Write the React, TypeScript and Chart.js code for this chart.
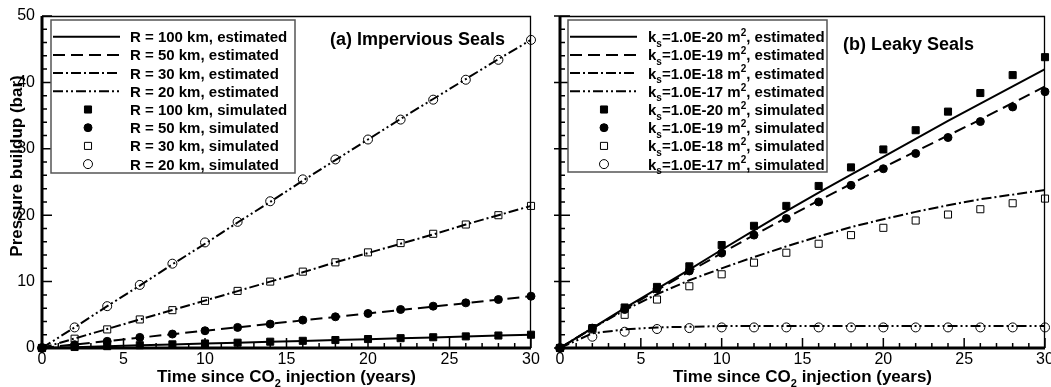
import React, { useEffect, useRef } from 'react';
import { Chart, registerables } from 'chart.js';
import { drawPoint } from 'chart.js/helpers';

Chart.register(...registerables);

const FAMILY = '"Liberation Sans", Arial, Helvetica, sans-serif';

// ---------- data ----------
const years = [0, 2, 4, 6, 8, 10, 12, 14, 16, 18, 20, 22, 24, 26, 28, 30];
const xTickValues = [0, 5, 10, 15, 20, 25, 30];
const yTickValues = [0, 10, 20, 30, 40, 50];

const xTitle = 'Time since CO_{2} injection (years)';
const yTitle = 'Pressure buildup (bar)';

// (a) Impervious seals
const titleA = '(a) Impervious Seals';
const labelsA = [
  'R = 100 km, estimated',
  'R = 50 km, estimated',
  'R = 30 km, estimated',
  'R = 20 km, estimated',
  'R = 100 km, simulated',
  'R = 50 km, simulated',
  'R = 30 km, simulated',
  'R = 20 km, simulated',
];
const estA100 = [0, 0.13, 0.27, 0.4, 0.53, 0.67, 0.8, 0.93, 1.07, 1.2, 1.33, 1.47, 1.6, 1.73, 1.87, 2.0];
const estA50 = [0, 0.52, 1.04, 1.56, 2.08, 2.6, 3.12, 3.64, 4.16, 4.68, 5.2, 5.72, 6.24, 6.76, 7.28, 7.8];
const estA30 = [0, 1.43, 2.86, 4.29, 5.71, 7.14, 8.57, 10.0, 11.4, 12.9, 14.3, 15.7, 17.1, 18.6, 20.0, 21.4];
const estA20 = [0, 3.1, 6.3, 9.4, 12.6, 15.7, 18.9, 22.0, 25.2, 28.3, 31.4, 34.5, 37.5, 40.5, 43.5, 46.4];
const simA100 = [0, 0.15, 0.28, 0.42, 0.55, 0.68, 0.8, 0.95, 1.08, 1.2, 1.35, 1.48, 1.62, 1.75, 1.88, 2.0];
const simA50 = [0, 0.5, 1.0, 1.6, 2.1, 2.6, 3.1, 3.6, 4.2, 4.7, 5.2, 5.8, 6.3, 6.8, 7.3, 7.8];
const simA30 = [0, 1.4, 2.8, 4.3, 5.7, 7.1, 8.6, 10.0, 11.5, 12.9, 14.4, 15.8, 17.2, 18.6, 20.0, 21.4];
const simA20 = [0, 3.1, 6.3, 9.5, 12.7, 15.9, 19.0, 22.1, 25.4, 28.4, 31.4, 34.4, 37.4, 40.4, 43.4, 46.4];

// (b) Leaky seals
const titleB = '(b) Leaky Seals';
const labelsB = [
  'k_{s}=1.0E-20 m^{2}, estimated',
  'k_{s}=1.0E-19 m^{2}, estimated',
  'k_{s}=1.0E-18 m^{2}, estimated',
  'k_{s}=1.0E-17 m^{2}, estimated',
  'k_{s}=1.0E-20 m^{2}, simulated',
  'k_{s}=1.0E-19 m^{2}, simulated',
  'k_{s}=1.0E-18 m^{2}, simulated',
  'k_{s}=1.0E-17 m^{2}, simulated',
];
const estB20 = [0, 3.0, 6.0, 8.9, 11.8, 14.8, 17.7, 20.6, 23.4, 26.1, 28.8, 31.5, 34.2, 36.8, 39.4, 42.0];
const estB19 = [0, 2.95, 5.85, 8.7, 11.5, 14.3, 17.0, 19.6, 22.2, 24.7, 27.2, 29.6, 32.0, 34.4, 36.9, 39.4];
const estB18 = [0, 3.0, 5.7, 8.1, 10.2, 12.0, 13.7, 15.3, 16.8, 18.2, 19.4, 20.5, 21.5, 22.4, 23.1, 23.8];
const estB17 = [0, 2.2, 2.8, 3.1, 3.2, 3.3, 3.3, 3.3, 3.3, 3.3, 3.3, 3.3, 3.3, 3.3, 3.3, 3.3];
const simB20 = [0, 3.0, 6.1, 9.2, 12.3, 15.5, 18.4, 21.4, 24.4, 27.2, 29.9, 32.8, 35.6, 38.4, 41.1, 43.8];
const simB19 = [0, 3.0, 5.8, 8.9, 11.6, 14.3, 17.0, 19.5, 22.0, 24.5, 27.0, 29.3, 31.7, 34.1, 36.3, 38.6];
const simB18 = [0, 2.8, 5.0, 7.3, 9.3, 11.1, 12.85, 14.35, 15.7, 17.0, 18.1, 19.2, 20.1, 20.9, 21.8, 22.5];
const simB17 = [0, 1.7, 2.45, 2.86, 3.0, 3.1, 3.1, 3.1, 3.1, 3.1, 3.1, 3.1, 3.1, 3.1, 3.1, 3.1];

// ---------- styles ----------
const lineDashes = [[], [12, 6], [10, 3, 2, 3], [10, 3, 2, 3, 2, 3]];
const markerStyles = [
  { pointStyle: 'rect', radius: 5, fill: '#000' },
  { pointStyle: 'circle', radius: 4, fill: '#000' },
  { pointStyle: 'rect', radius: 5, fill: 'rgba(0,0,0,0)' },
  { pointStyle: 'circle', radius: 4.5, fill: 'rgba(0,0,0,0)' },
];

function toPoints(vals: number[]) {
  return years.map((x, i) => ({ x, y: vals[i] }));
}

function buildDatasets(labels: string[], est: number[][], sim: number[][]) {
  const ds: any[] = [];
  est.forEach((vals, i) => {
    ds.push({
      label: labels[i],
      data: toPoints(vals),
      showLine: true,
      borderColor: '#000',
      backgroundColor: '#000',
      borderWidth: 2,
      borderDash: lineDashes[i],
      pointRadius: 0,
      pointHoverRadius: 0,
      order: 2,
      _kind: 'line',
    });
  });
  sim.forEach((vals, i) => {
    const m = markerStyles[i];
    ds.push({
      label: labels[i + 4],
      data: toPoints(vals),
      showLine: false,
      borderColor: '#000',
      backgroundColor: m.fill,
      pointBackgroundColor: m.fill,
      pointBorderColor: '#000',
      pointBorderWidth: 1,
      pointStyle: m.pointStyle,
      pointRadius: m.radius,
      pointHoverRadius: m.radius,
      clip: false,
      order: 1,
      _kind: 'marker',
    });
  });
  return ds;
}

// rich text with _{sub} and ^{sup}
function richParts(text: string) {
  return text.split(/(_\{[^}]*\}|\^\{[^}]*\})/g).filter((p) => p.length);
}
function drawRich(ctx: CanvasRenderingContext2D, text: string, x: number, y: number, size: number, weight: string, align: 'left' | 'center') {
  const parts = richParts(text).map((p) => {
    if (p.startsWith('_{')) return { t: p.slice(2, -1), fs: Math.round(size * 0.66), dy: size * 0.3 };
    if (p.startsWith('^{')) return { t: p.slice(2, -1), fs: Math.round(size * 0.66), dy: -size * 0.42 };
    return { t: p, fs: size, dy: 0 };
  });
  let total = 0;
  for (const p of parts) {
    ctx.font = `${weight} ${p.fs}px ${FAMILY}`;
    total += ctx.measureText(p.t).width;
  }
  let cx = align === 'center' ? x - total / 2 : x;
  ctx.textAlign = 'left';
  ctx.textBaseline = 'alphabetic';
  for (const p of parts) {
    ctx.font = `${weight} ${p.fs}px ${FAMILY}`;
    ctx.fillText(p.t, cx, y + p.dy);
    cx += ctx.measureText(p.t).width;
  }
}

function makeDecor(p: any) {
  return {
    id: 'decor',
    afterDraw(chart: any) {
      const { ctx, chartArea: a } = chart;
      const xs = chart.scales.x;
      const ys = chart.scales.y;
      ctx.save();
      ctx.strokeStyle = '#000';
      ctx.setLineDash([]);
      // thin top/right frame
      ctx.lineWidth = 1.3;
      ctx.beginPath();
      ctx.moveTo(a.left, a.top + 0.5);
      ctx.lineTo(a.right - 0.5, a.top + 0.5);
      ctx.lineTo(a.right - 0.5, a.bottom);
      ctx.stroke();
      // inward ticks
      ctx.lineWidth = 1.5;
      ctx.beginPath();
      for (let v = xs.min; v <= xs.max + 1e-9; v += 1) {
        const px = xs.getPixelForValue(v);
        const major = xTickValues.includes(v);
        ctx.moveTo(px, a.bottom);
        ctx.lineTo(px, a.bottom - (major ? 10 : 5));
      }
      for (let v = ys.min; v <= ys.max + 1e-9; v += 2) {
        const py = ys.getPixelForValue(v);
        const major = yTickValues.includes(v);
        ctx.moveTo(a.left - (major ? p.outerMajor : 0), py);
        ctx.lineTo(a.left + (major ? 10 : 5), py);
      }
      ctx.stroke();
      // thick left/bottom axes
      ctx.lineWidth = 3;
      ctx.beginPath();
      ctx.moveTo(a.left, a.top);
      ctx.lineTo(a.left, a.bottom);
      ctx.lineTo(a.right, a.bottom);
      ctx.stroke();

      // legend box
      const L = p.legend;
      ctx.fillStyle = '#fff';
      ctx.fillRect(L.x, L.y, L.w, L.h);
      ctx.strokeStyle = '#555';
      ctx.lineWidth = 1.5;
      ctx.strokeRect(L.x, L.y, L.w, L.h);
      chart.data.datasets.forEach((d: any, i: number) => {
        const cy = L.firstRow + i * L.rowStep;
        if (d._kind === 'line') {
          ctx.strokeStyle = '#000';
          ctx.lineWidth = 2;
          ctx.setLineDash(d.borderDash || []);
          ctx.beginPath();
          ctx.moveTo(L.lineX0, cy);
          ctx.lineTo(L.lineX1, cy);
          ctx.stroke();
          ctx.setLineDash([]);
        } else {
          ctx.fillStyle = d.pointBackgroundColor;
          ctx.strokeStyle = '#000';
          ctx.lineWidth = 1;
          drawPoint(ctx, { pointStyle: d.pointStyle, radius: d.pointRadius, borderWidth: 1, rotation: 0 }, L.markerX, cy);
        }
        ctx.fillStyle = '#000';
        drawRich(ctx, d.label, L.textX, cy + 5.5, 15, 'bold', 'left');
      });

      // panel title
      ctx.fillStyle = '#000';
      drawRich(ctx, p.title, p.titleX, p.titleY, 18, 'bold', 'left');

      // x axis title
      drawRich(ctx, xTitle, (a.left + a.right) / 2, p.xTitleY, 17, 'bold', 'center');

      // y axis title
      if (p.showYTitle) {
        ctx.save();
        ctx.translate(p.yTitleX, p.yTitleY);
        ctx.rotate(-Math.PI / 2);
        ctx.font = `bold 17px ${FAMILY}`;
        ctx.textAlign = 'center';
        ctx.textBaseline = 'middle';
        ctx.fillText(yTitle, 0, 0);
        ctx.restore();
      }
      ctx.restore();
    },
  };
}

function makeConfig(panel: any) {
  return {
    type: 'scatter',
    data: { datasets: buildDatasets(panel.labels, panel.est, panel.sim) },
    options: {
      animation: false,
      responsive: false,
      events: [],
      layout: { padding: { left: 0, top: panel.padTop, right: panel.padRight, bottom: 0 } },
      plugins: { legend: { display: false }, tooltip: { enabled: false }, title: { display: false } },
      scales: {
        x: {
          type: 'linear',
          min: 0,
          max: 30,
          grid: { display: false, drawTicks: false },
          border: { display: false },
          afterBuildTicks: (s: any) => {
            s.ticks = xTickValues.map((v) => ({ value: v }));
          },
          ticks: {
            color: '#000',
            padding: 2,
            maxRotation: 0,
            autoSkip: false,
            font: { family: FAMILY, size: 16 },
          },
          afterFit: (s: any) => {
            s.height = panel.xAxisHeight;
            s.paddingLeft = 0;
            s.paddingRight = 0;
          },
        },
        y: {
          type: 'linear',
          min: 0,
          max: 50,
          grid: { display: false, drawTicks: false },
          border: { display: false },
          afterBuildTicks: (s: any) => {
            s.ticks = yTickValues.map((v) => ({ value: v }));
          },
          ticks: {
            display: panel.showYTicks,
            color: '#000',
            padding: 7,
            autoSkip: false,
            font: { family: FAMILY, size: 16 },
          },
          afterFit: (s: any) => {
            s.width = panel.yAxisWidth;
            s.paddingTop = 0;
            s.paddingBottom = 0;
          },
        },
      },
    },
    plugins: [makeDecor(panel.decor)],
  };
}

const panelA = {
  labels: labelsA,
  est: [estA100, estA50, estA30, estA20],
  sim: [simA100, simA50, simA30, simA20],
  padTop: 16,
  padRight: 9,
  xAxisHeight: 39,
  yAxisWidth: 42,
  showYTicks: true,
  decor: {
    outerMajor: 0,
    title: titleA,
    titleX: 330,
    titleY: 45,
    xTitleY: 382,
    showYTitle: true,
    yTitleX: 17.5,
    yTitleY: 166,
    legend: { x: 51, y: 20, w: 244, h: 153, firstRow: 36.7, rowStep: 18.2, lineX0: 53, lineX1: 120, markerX: 88, textX: 130 },
  },
};

const panelB = {
  labels: labelsB,
  est: [estB20, estB19, estB18, estB17],
  sim: [simB20, simB19, simB18, simB17],
  padTop: 16,
  padRight: 3,
  xAxisHeight: 39,
  yAxisWidth: 20,
  showYTicks: false,
  decor: {
    outerMajor: 6,
    title: titleB,
    titleX: 303,
    titleY: 50,
    xTitleY: 382,
    showYTitle: false,
    yTitleX: 0,
    yTitleY: 0,
    legend: { x: 28, y: 20, w: 259, h: 152, firstRow: 36.7, rowStep: 18.2, lineX0: 30, lineX1: 97, markerX: 64, textX: 108 },
  },
};

function Panel({ panel, left, width }: { panel: any; left: number; width: number }) {
  const ref = useRef<HTMLCanvasElement | null>(null);
  useEffect(() => {
    if (!ref.current) return;
    const chart = new Chart(ref.current, makeConfig(panel) as any);
    return () => chart.destroy();
  }, [panel]);
  return (
    <div style={{ position: 'absolute', left, top: 0, width, height: 387 }}>
      <canvas ref={ref} width={width} height={387} style={{ display: 'block', width, height: 387 }} />
    </div>
  );
}

export default function App() {
  return (
    <div style={{ position: 'fixed', left: 0, top: 0, width: 1051, height: 387, background: '#fff', overflow: 'hidden' }}>
      <Panel panel={panelA} left={0} width={540} />
      <Panel panel={panelB} left={540} width={511} />
    </div>
  );
}
